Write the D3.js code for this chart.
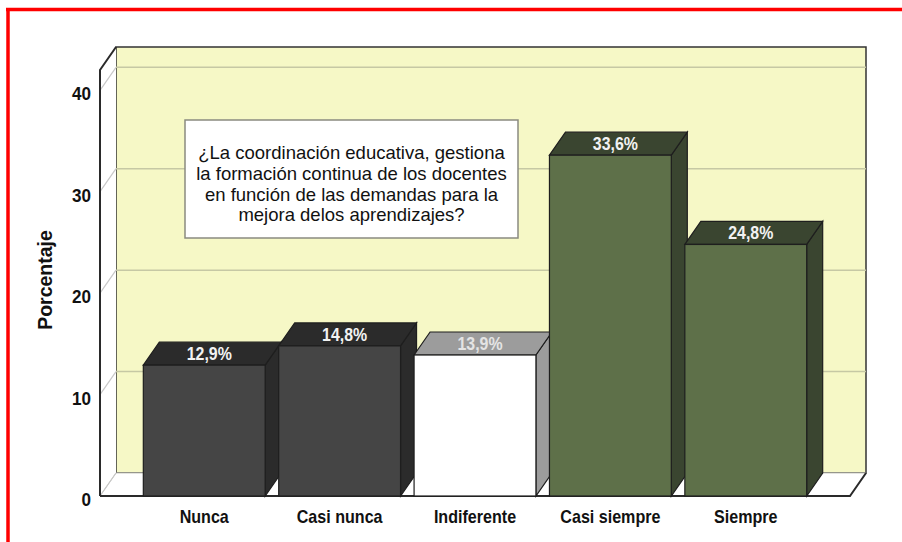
<!DOCTYPE html>
<html>
<head>
<meta charset="utf-8">
<script src="https://cdn.jsdelivr.net/npm/d3@7"></script>
<style>
  body { margin: 0; background: #fff; }
  svg { display: block; font-family: 'Liberation Sans', Arial, sans-serif; }
</style>
</head>
<body>
<div id="chart"></div>
<script>
// datos
var categories = ['Nunca', 'Casi nunca', 'Indiferente', 'Casi siempre', 'Siempre'];
var values = [12.9, 14.8, 13.9, 33.6, 24.8];
var labels = ['12,9%', '14,8%', '13,9%', '33,6%', '24,8%'];
var yTicks = [0, 10, 20, 30, 40];
var question = [
  '¿La coordinación educativa, gestiona',
  'la formación continua de los docentes',
  'en función de las demandas para la',
  'mejora delos aprendizajes?'
];
// colores [frente, lado/arriba]
var barColors = [
  ['#454545', '#2b2b2b'],
  ['#454545', '#2b2b2b'],
  ['#ffffff', '#9c9c9c'],
  ['#5e7049', '#3a4530'],
  ['#5e7049', '#3a4530']
];

var width = 902, height = 542;
var dx = 16, dy = 23; // profundidad 3D
var x0 = 100, x1 = 850, yBase = 496, yTop = 70;

var svg = d3.select('#chart').append('svg')
  .attr('width', width)
  .attr('height', height);

// borde rojo
svg.append('line').attr('x1', 6).attr('x2', width).attr('y1', 9.5).attr('y2', 9.5)
  .attr('stroke', '#ff0000').attr('stroke-width', 3.5);
svg.append('line').attr('x1', 8).attr('x2', 8).attr('y1', 8).attr('y2', height)
  .attr('stroke', '#ff0000').attr('stroke-width', 3.5);

// escalas
var y = d3.scaleLinear().domain([0, 42]).range([yBase, yTop]);
var x = d3.scaleBand().domain(categories).range([x0, x1])
  .paddingInner(0.1).paddingOuter(0.32);

// pared del fondo
svg.append('rect')
  .attr('x', x0 + dx).attr('y', yTop - dy)
  .attr('width', x1 - x0).attr('height', yBase - yTop)
  .attr('fill', '#f6f8c6')
  .attr('stroke', '#333').attr('stroke-width', 1.5);

// pared izquierda
svg.append('path')
  .attr('d', 'M' + x0 + ',' + yTop + 'L' + (x0 + dx) + ',' + (yTop - dy) +
    'L' + (x0 + dx) + ',' + (yBase - dy) + 'L' + x0 + ',' + yBase + 'Z')
  .attr('fill', '#fff');

// piso
svg.append('path')
  .attr('d', 'M' + x0 + ',' + yBase + 'L' + (x0 + dx) + ',' + (yBase - dy) +
    'L' + (x1 + dx) + ',' + (yBase - dy) + 'L' + x1 + ',' + yBase + 'Z')
  .attr('fill', '#fff')
  .attr('stroke', '#c9c9c0').attr('stroke-width', 1);

// lineas de cuadricula
var grid = svg.append('g');
grid.selectAll('.hg')
  .data(yTicks.filter(function(d) { return d > 0; }))
  .enter().append('line')
  .attr('x1', x0 + dx).attr('x2', x1 + dx)
  .attr('y1', function(d) { return y(d) - dy; })
  .attr('y2', function(d) { return y(d) - dy; })
  .attr('stroke', '#c6c8a4').attr('stroke-width', 1.5);
grid.selectAll('.sg')
  .data(yTicks)
  .enter().append('line')
  .attr('x1', x0).attr('x2', x0 + dx)
  .attr('y1', function(d) { return y(d); })
  .attr('y2', function(d) { return y(d) - dy; })
  .attr('stroke', '#c8c8c8').attr('stroke-width', 1.2);

// contornos oscuros
var edges = svg.append('g').attr('fill', 'none').attr('stroke', '#2a2a2a').attr('stroke-width', 2);
edges.append('path')
  .attr('d', 'M' + x0 + ',' + yBase + 'L' + x0 + ',' + yTop + 'L' + (x0 + dx) + ',' + (yTop - dy));
edges.append('path')
  .attr('d', 'M' + x0 + ',' + yBase + 'L' + x1 + ',' + yBase + 'L' + (x1 + dx) + ',' + (yBase - dy));

// cuadro de texto
svg.append('rect')
  .attr('x', 185).attr('y', 120).attr('width', 333).attr('height', 118)
  .attr('fill', '#fff').attr('stroke', '#8a8a80').attr('stroke-width', 1.5);
svg.append('text')
  .attr('text-anchor', 'middle')
  .attr('font-size', '18.5px')
  .attr('fill', '#111')
  .selectAll('tspan')
  .data(question)
  .enter().append('tspan')
  .attr('x', 351.5)
  .attr('y', function(d, i) { return 159 + i * 20.8; })
  .text(function(d) { return d; });

// barras 3D
var bars = svg.selectAll('.bar')
  .data(values)
  .enter().append('g')
  .attr('class', 'bar');

bars.each(function(v, i) {
  var g = d3.select(this);
  var bx = x(categories[i]), bw = x.bandwidth();
  var yv = y(v);
  var c = barColors[i];
  // lado
  g.append('path')
    .attr('d', 'M' + (bx + bw) + ',' + yv + 'L' + (bx + bw + dx) + ',' + (yv - dy) +
      'L' + (bx + bw + dx) + ',' + (yBase - dy) + 'L' + (bx + bw) + ',' + yBase + 'Z')
    .attr('fill', c[1]).attr('stroke', '#1e1e1e').attr('stroke-width', 1.2);
  // arriba
  g.append('path')
    .attr('d', 'M' + bx + ',' + yv + 'L' + (bx + dx) + ',' + (yv - dy) +
      'L' + (bx + bw + dx) + ',' + (yv - dy) + 'L' + (bx + bw) + ',' + yv + 'Z')
    .attr('fill', c[1]).attr('stroke', '#1e1e1e').attr('stroke-width', 1.2);
  // frente
  g.append('rect')
    .attr('x', bx).attr('y', yv)
    .attr('width', bw).attr('height', yBase - yv)
    .attr('fill', c[0]).attr('stroke', '#1e1e1e').attr('stroke-width', 1.2);
  // etiqueta (fuente estrecha simulada)
  var lx = bx + bw / 2 + 5, ly = yv - dy / 2 + 6.5;
  g.append('text')
    .attr('transform', 'translate(' + lx + ',' + ly + ') scale(0.86,1)')
    .attr('text-anchor', 'middle')
    .attr('font-weight', 'bold')
    .attr('font-size', '18.5px')
    .attr('fill', i === 2 ? '#e4e4e4' : '#f2f2f2')
    .text(labels[i]);
});

// etiquetas del eje y
svg.append('g')
  .selectAll('text')
  .data(yTicks)
  .enter().append('text')
  .attr('transform', function(d) { return 'translate(91,' + (y(d) + 10) + ') scale(0.9,1)'; })
  .attr('text-anchor', 'end')
  .attr('font-weight', 'bold')
  .attr('font-size', '19px')
  .attr('fill', '#111')
  .text(function(d) { return d; });

// etiquetas de categorias
svg.append('g')
  .selectAll('text')
  .data(categories)
  .enter().append('text')
  .attr('transform', function(d) { return 'translate(' + (x(d) + x.bandwidth() / 2) + ',523) scale(0.92,1)'; })
  .attr('text-anchor', 'middle')
  .attr('font-weight', 'bold')
  .attr('font-size', '17.5px')
  .attr('fill', '#111')
  .text(function(d) { return d; });

// titulo eje y
svg.append('text')
  .attr('transform', 'translate(52,280) rotate(-90)')
  .attr('text-anchor', 'middle')
  .attr('font-weight', 'bold')
  .attr('font-size', '19.5px')
  .attr('fill', '#111')
  .text('Porcentaje');
</script>
</body>
</html>
